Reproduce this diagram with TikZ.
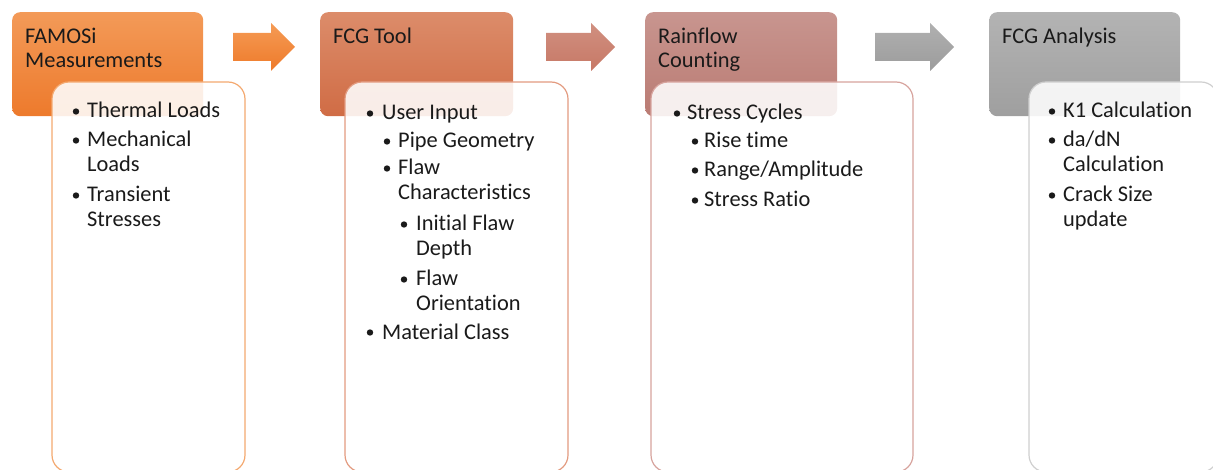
\documentclass[tikz,border=0pt]{standalone}
\usepackage{fontspec}
\setmainfont{Carlito}[Ligatures={NoCommon,NoContextual}]
\definecolor{txtc}{HTML}{1A1A1A}
\definecolor{hAtop}{HTML}{F39A58}
\definecolor{hAbot}{HTML}{ED7A2C}
\definecolor{hBtop}{HTML}{DC8C6A}
\definecolor{hBbot}{HTML}{D06C45}
\definecolor{hCtop}{HTML}{C8958F}
\definecolor{hCbot}{HTML}{BA7B73}
\definecolor{hDtop}{HTML}{B3B3B3}
\definecolor{hDbot}{HTML}{9F9F9F}
\definecolor{bA}{HTML}{F4A970}
\definecolor{bB}{HTML}{E39B80}
\definecolor{bC}{HTML}{D7A39D}
\definecolor{bD}{HTML}{CFCFCF}
\definecolor{aAtop}{HTML}{F59B55}
\definecolor{aAbot}{HTML}{EE7A2A}
\definecolor{aBtop}{HTML}{D09080}
\definecolor{aBbot}{HTML}{C77866}
\definecolor{aCtop}{HTML}{B0B0B0}
\definecolor{aCbot}{HTML}{9C9C9C}
\tikzset{
  hdr/.style={anchor=north west, draw=none, rounded corners=8pt, inner sep=0pt,
    minimum height=104pt},
  cbox/.style={fill=white, fill opacity=0.88, line width=1.2pt, rounded corners=17pt},
  txt/.style={anchor=base west, inner sep=0pt, text=txtc, font=\fontsize{22.4}{25}\selectfont},
  dot/.style={circle, fill=txtc, draw=none, inner sep=0pt, minimum size=6.4pt},
}
\newcommand\bul[3]{\node[dot] (#1) at (#2,#3-6.5) {};}
\begin{document}
\begin{tikzpicture}[x=1pt,y=-1pt]
\useasboundingbox (0,0) rectangle (1213,470);
\clip (0,0) rectangle (1213,470);
% headers
\node[hdr, top color=hAtop, bottom color=hAbot, minimum width=191pt] (h1) at (12,12) {};
\node[hdr, top color=hBtop, bottom color=hBbot, minimum width=193pt] (h2) at (320,12) {};
\node[hdr, top color=hCtop, bottom color=hCbot, minimum width=192pt] (h3) at (645,12) {};
\node[hdr, top color=hDtop, bottom color=hDbot, minimum width=191pt] (h4) at (989,12) {};
% arrows
\shade[top color=aAtop, bottom color=aAbot] (233,33) -- (271,33) -- (271,23) -- (295,47) -- (271,71) -- (271,61) -- (233,61) -- cycle;
\shade[top color=aBtop, bottom color=aBbot] (546,33) -- (591,33) -- (591,23) -- (615,47) -- (591,71) -- (591,61) -- (546,61) -- cycle;
\shade[top color=aCtop, bottom color=aCbot] (875,33) -- (930,33) -- (930,23) -- (954,47) -- (930,71) -- (930,61) -- (875,61) -- cycle;
% content boxes
\draw[cbox, draw=bA] (52,82) rectangle (245,472);
\draw[cbox, draw=bB] (345,82) rectangle (568,472);
\draw[cbox, draw=bC] (651,82) rectangle (913,472);
\draw[cbox, draw=bD] (1029,82) rectangle (1218,472);
% header texts
\node[txt] (t1a) at (25,44) {FAMOSi};
\node[txt] (t1b) at (25,68) {Measurements};
\node[txt] (t2a) at (333,44) {FCG Tool};
\node[txt] (t3a) at (658,44) {Rainflow};
\node[txt] (t3b) at (658,68) {Counting};
\node[txt] (t4a) at (1002,44) {FCG Analysis};
% box 1
\bul{b1a}{76}{118} \node[txt] (l1a) at (87,118) {Thermal Loads};
\bul{b1b}{76}{147} \node[txt] (l1b) at (87,147) {Mechanical};
\node[txt] (l1c) at (87,172) {Loads};
\bul{b1d}{76}{202} \node[txt] (l1d) at (87,202) {Transient};
\node[txt] (l1e) at (87,227) {Stresses};
% box 2
\bul{b2a}{370}{120} \node[txt] (l2a) at (382,120) {User Input};
\bul{b2b}{387}{148} \node[txt] (l2b) at (398,148) {Pipe Geometry};
\bul{b2c}{387}{175} \node[txt] (l2c) at (398,175) {Flaw};
\node[txt] (l2d) at (398,200) {Characteristics};
\bul{b2e}{404}{231} \node[txt] (l2e) at (416,231) {Initial Flaw};
\node[txt] (l2f) at (416,256) {Depth};
\bul{b2g}{404}{286} \node[txt] (l2g) at (416,286) {Flaw};
\node[txt] (l2h) at (416,311) {Orientation};
\bul{b2i}{370}{339} \node[txt] (l2i) at (382,339) {Material Class};
% box 3
\bul{b3a}{677}{120} \node[txt] (l3a) at (687,120) {Stress Cycles};
\bul{b3b}{695}{148} \node[txt] (l3b) at (704,148) {Rise time};
\bul{b3c}{695}{177} \node[txt] (l3c) at (704,177) {Range/Amplitude};
\bul{b3d}{695}{207} \node[txt] (l3d) at (704,207) {Stress Ratio};
% box 4
\bul{b4a}{1052}{118} \node[txt] (l4a) at (1063,118) {K1 Calculation};
\bul{b4b}{1052}{147} \node[txt] (l4b) at (1063,147) {da/dN};
\node[txt] (l4c) at (1063,172) {Calculation};
\bul{b4d}{1052}{202} \node[txt] (l4d) at (1063,202) {Crack Size};
\node[txt] (l4e) at (1063,227) {update};
\end{tikzpicture}
\end{document}
